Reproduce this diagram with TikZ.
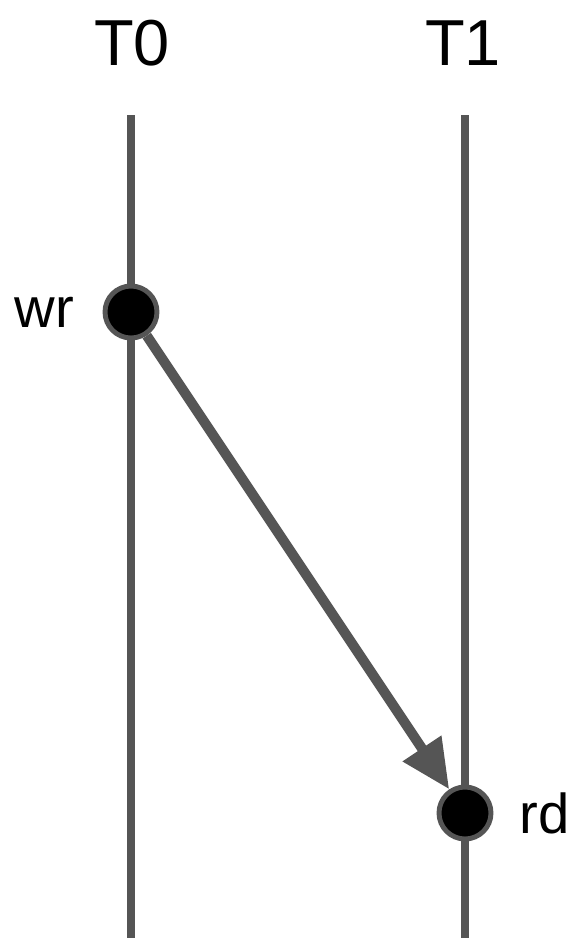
\documentclass[tikz,border=0pt]{standalone}
\usepackage{fontspec}
\setmainfont{Liberation Sans}
\usepackage{tikz}
\usetikzlibrary{arrows.meta, positioning}
\definecolor{ThreadGray}{RGB}{85, 85, 85}
\tikzset{
  thread/.style={line width=4.5pt, color=ThreadGray},
  ev/.style={circle, minimum size=1.04cm, inner sep=0pt, fill=black,
    draw=ThreadGray, line width=2.8pt},
  lbl/.style={font=\fontsize{32}{38}\selectfont, text=black, inner sep=0pt},
  head/.style={lbl, font=\fontsize{37}{44}\selectfont},
  hb/.style={-{Triangle[length=28pt,width=25pt]}, line width=5.7pt,
    color=ThreadGray},
}

\begin{document}
\begin{tikzpicture}[x=0.02cm, y=-0.02cm]
  \useasboundingbox (0,0) rectangle (572,938);
  % threads
  \node[head] (t0) at (132,43) {T0};
  \node[head] (t1) at (463,43) {T1};
  \coordinate (t0top) at (131,115); \coordinate (t0bot) at (131,938);
  \coordinate (t1top) at (465,115); \coordinate (t1bot) at (465,938);
  \draw[thread] (t0top)--(t0bot);
  \draw[thread] (t1top)--(t1bot);
  % events
  \node[ev] (wr) at (131,312) {};
  \node[ev] (rd) at (465,813) {};
  \node[lbl, left=0.56cm of wr] (wrl) {wr};
  \node[lbl, right=0.52cm of rd] (rdl) {rd};
  \draw[hb] (wr)--(rd);
\end{tikzpicture}
\end{document}
